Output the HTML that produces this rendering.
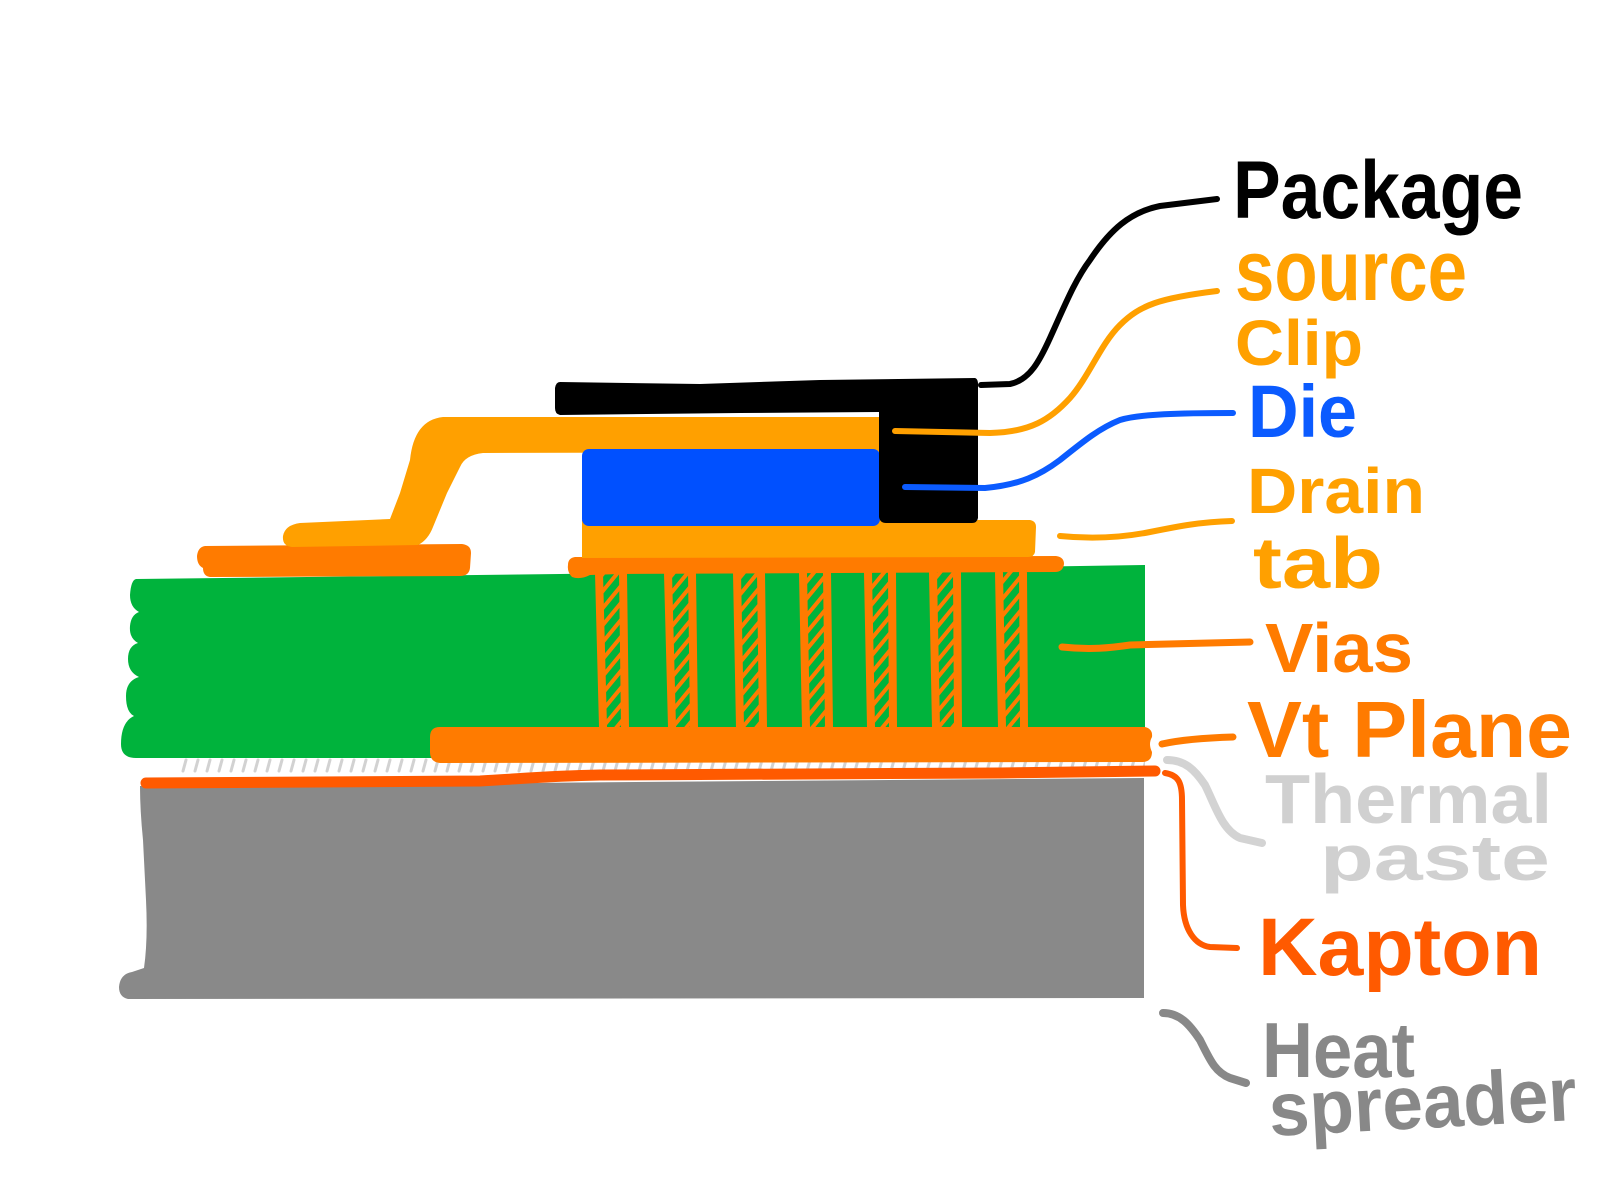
<!DOCTYPE html>
<html>
<head>
<meta charset="utf-8">
<style>
  html, body { margin: 0; padding: 0; background: #ffffff; }
  body { width: 1600px; height: 1200px; overflow: hidden; }
  svg { display: block; }
  text { font-family: "Liberation Sans", "DejaVu Sans", sans-serif; font-weight: bold; stroke-linejoin: round; }
</style>
</head>
<body>
<svg width="1600" height="1200" viewBox="0 0 1600 1200" xmlns="http://www.w3.org/2000/svg">
  <defs>
    <pattern id="tp" width="12" height="16" patternUnits="userSpaceOnUse" x="0" y="757">
      <path d="M3,14 L6,3" stroke="#d2d2d2" stroke-width="3" stroke-linecap="round" fill="none"/>
    </pattern>
    <pattern id="hatch" width="14" height="17" patternUnits="userSpaceOnUse" x="0" y="575">
      <rect width="14" height="17" fill="#00b33c"/>
      <path d="M-2,19.4 L16,-2.4 M-16,19.4 L2,-2.4 M12,19.4 L30,-2.4" stroke="#ff7b00" stroke-width="4" fill="none"/>
    </pattern>
  </defs>

  <rect width="1600" height="1200" fill="#ffffff"/>

  <!-- Heat spreader (grey) -->
  <path d="M140,786 L1144,778 L1144,998 L128,999 Q119,997 119,987 Q120,974 132,972 L144,968 Q148,940 146,900 L143,840 Q140,810 140,786 Z" fill="#898989"/>

  <!-- Thermal paste -->
  <rect x="177" y="757" width="968" height="16" fill="url(#tp)"/>

  <!-- Kapton -->
  <path d="M146,783 L480,781 C520,779 545,776 600,775 L1000,773 L1155,771" stroke="#ff5a00" stroke-width="11" stroke-linecap="round" fill="none"/>

  <!-- PCB green -->
  <path d="M136,579 L560,574 L1145,565 L1145,758 L136,758 Q121,758 121,744 Q121,722 134,716 Q126,712 126,696 Q126,681 139,677 Q128,672 128,659 Q128,646 138,643 Q129,638 130,626 Q131,615 139,612 Q130,607 130,595 Q131,580 136,579 Z" fill="#00b33c"/>

  <!-- Vias -->
  <g>
    <rect x="602" y="572" width="20" height="155" fill="url(#hatch)"/>
    <rect x="671" y="572" width="20" height="155" fill="url(#hatch)"/>
    <rect x="740" y="572" width="20" height="155" fill="url(#hatch)"/>
    <rect x="806" y="572" width="20" height="155" fill="url(#hatch)"/>
    <rect x="871" y="572" width="20" height="155" fill="url(#hatch)"/>
    <rect x="936" y="572" width="20" height="155" fill="url(#hatch)"/>
    <rect x="1002" y="572" width="20" height="155" fill="url(#hatch)"/>
  </g>
  <g stroke="#ff7b00" stroke-width="8" stroke-linecap="round" fill="none">
    <path d="M599,573 L603,727 M623,573 L625,727"/>
    <path d="M668,573 L672,727 M692,573 L694,727"/>
    <path d="M737,573 L740,727 M761,573 L763,727"/>
    <path d="M803,573 L806,727 M827,573 L829,727"/>
    <path d="M868,573 L871,727 M892,573 L893,727"/>
    <path d="M933,573 L936,727 M957,573 L958,727"/>
    <path d="M999,573 L1002,727 M1023,573 L1024,727"/>
  </g>

  <!-- Vt plane -->
  <path d="M440,727 L1145,727 Q1153,729 1152,737 Q1148,744 1152,752 Q1152,762 1142,762 L440,763 Q430,762 430,752 L430,737 Q430,727 440,727 Z" fill="#ff7b00"/>

  <!-- Left pad under clip foot -->
  <path d="M205,546 L462,544 Q471,545 471,553 L470,568 Q469,576 460,576 L210,577 Q203,576 203,568 Q197,565 197,556 Q198,547 205,546 Z" fill="#ff7b00"/>

  <!-- Upper pad under drain tab -->
  <path d="M575,557 L1056,556 Q1064,557 1064,564 Q1063,572 1055,572 L620,574 L590,575 Q580,580 572,577 Q567,572 568,565 Q568,558 575,557 Z" fill="#ff7b00"/>

  <!-- Drain tab -->
  <path d="M582,520 L1030,520 Q1036,521 1036,527 L1035,552 Q1034,557 1028,557 L582,558 Z" fill="#ffa000"/>

  <!-- Source clip -->
  <path d="M443,417 L880,417 L880,452 L483,453 Q465,455 460,467 L447,493 L433,527 Q428,540 418,545 L292,547 Q282,546 283,536 Q285,525 300,523 L390,519 L400,493 L410,460 Q414,420 443,417 Z" fill="#ffa000"/>

  <!-- Die -->
  <rect x="582" y="449" width="298" height="77" rx="7" fill="#0050ff"/>

  <!-- Package (black) -->
  <path d="M560,382 L700,384 L820,380 L975,378 Q978,379 978,384 L978,518 Q977,523 972,523 L886,523 Q880,523 879,517 L879,412 L740,413 L560,415 Q555,414 555,408 L555,388 Q556,382 560,382 Z" fill="#000000"/>

  <!-- Leader lines -->
  <g fill="none" stroke-linecap="round" stroke-linejoin="round">
    <path d="M981,385 L1010,384 C1030,380 1040,360 1050,338 C1065,305 1075,280 1090,260 C1110,230 1130,212 1160,206 L1217,199" stroke="#000" stroke-width="6"/>
    <path d="M895,431 L990,433 C1030,432 1050,420 1070,398 C1090,375 1100,345 1120,325 C1140,305 1160,298 1217,291" stroke="#ffa000" stroke-width="6"/>
    <path d="M905,487 L985,488 C1020,485 1040,475 1060,460 C1085,440 1100,428 1120,420 C1140,414 1180,413 1233,413" stroke="#0b5bff" stroke-width="6"/>
    <path d="M1060,536 C1090,539 1120,538 1150,532 C1180,526 1200,522 1232,521" stroke="#ffa000" stroke-width="6"/>
    <path d="M1062,647 C1090,650 1110,648 1130,645 L1250,642" stroke="#ff7b00" stroke-width="7"/>
    <path d="M1162,744 C1180,740 1200,738 1233,737" stroke="#ff7b00" stroke-width="7"/>
    <path d="M1167,760 C1185,760 1195,770 1205,785 C1215,805 1222,830 1240,838 L1262,843" stroke="#d3d3d3" stroke-width="8"/>
    <path d="M1165,773 C1178,775 1182,782 1182,800 L1183,905 C1184,930 1195,945 1210,947 L1237,948" stroke="#ff5a00" stroke-width="6"/>
    <path d="M1163,1013 C1180,1013 1190,1025 1200,1040 C1210,1060 1215,1072 1230,1078 L1246,1083" stroke="#888888" stroke-width="8"/>
  </g>

  <!-- Labels -->
  <text x="1233" y="218" font-size="82" fill="#000000" textLength="290" lengthAdjust="spacingAndGlyphs">Package</text>
  <text x="1235" y="300" font-size="86" fill="#ffa000" textLength="232" lengthAdjust="spacingAndGlyphs">source</text>
  <text x="1235" y="365" font-size="64" fill="#ffa000" textLength="128" lengthAdjust="spacingAndGlyphs">Clip</text>
  <text x="1248" y="437" font-size="74" fill="#0b5bff" textLength="109" lengthAdjust="spacingAndGlyphs">Die</text>
  <text x="1247" y="513" font-size="64" fill="#ffa000" textLength="178" lengthAdjust="spacingAndGlyphs">Drain</text>
  <text x="1253" y="588" font-size="72" fill="#ffa000" textLength="130" lengthAdjust="spacingAndGlyphs">tab</text>
  <text x="1265" y="672" font-size="70" fill="#ff7b00" textLength="148" lengthAdjust="spacingAndGlyphs">Vias</text>
  <text x="1247" y="757" font-size="80" fill="#ff7b00" textLength="325" lengthAdjust="spacingAndGlyphs">Vt Plane</text>
  <text x="1265" y="823" font-size="70" fill="#d0d0d0" textLength="287" lengthAdjust="spacingAndGlyphs">Thermal</text>
  <text x="1320" y="880" font-size="64" fill="#d0d0d0" textLength="230" lengthAdjust="spacingAndGlyphs">paste</text>
  <text x="1258" y="975" font-size="82" fill="#ff5a00" textLength="284" lengthAdjust="spacingAndGlyphs">Kapton</text>
  <text x="1262" y="1077" font-size="78" fill="#888888" textLength="153" lengthAdjust="spacingAndGlyphs">Heat</text>
  <text x="1269" y="1128" font-size="76" fill="#888888" textLength="308" lengthAdjust="spacingAndGlyphs" transform="rotate(-3 1423 1110)">spreader</text>
</svg>
</body>
</html>
